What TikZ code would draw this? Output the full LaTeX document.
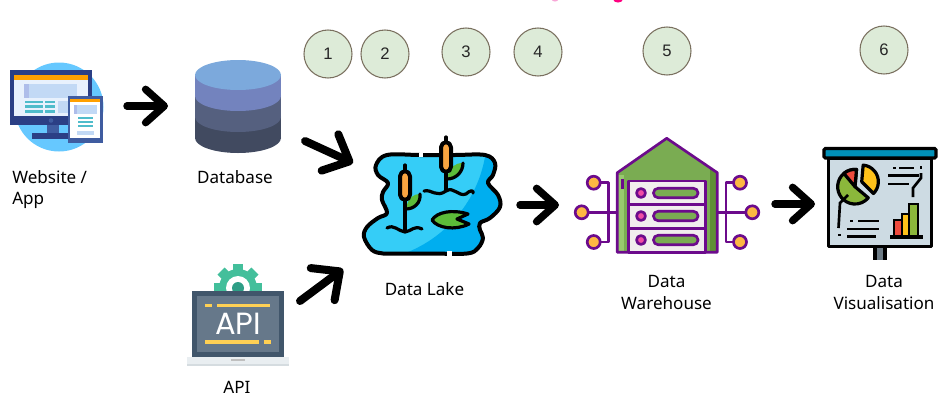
\documentclass[tikz,border=0pt]{standalone}
\usepackage{fontspec}
\setmainfont{Noto Sans}
\newfontfamily\numfont{Liberation Sans}
\newfontfamily\apifont{Poppins}
\usetikzlibrary{arrows.meta}
\definecolor{stepfill}{HTML}{DDEBD8}
\definecolor{stepline}{HTML}{7A705F}
\definecolor{sitesky}{HTML}{66C8FF}
\definecolor{sitenavy}{HTML}{2B3F85}
\definecolor{sitemid}{HTML}{3F5CA0}
\definecolor{sitepale}{HTML}{C2D9F5}
\definecolor{sitestrip}{HTML}{AEBDEA}
\definecolor{sitescreen}{HTML}{E8F1FD}
\definecolor{siteteal}{HTML}{4FBCCB}
\definecolor{siteorange}{HTML}{FFA000}
\definecolor{dbtop}{HTML}{7CA9DC}
\definecolor{dbupper}{HTML}{7383BE}
\definecolor{dbmiddle}{HTML}{55607F}
\definecolor{dblower}{HTML}{414A60}
\definecolor{gearteal}{HTML}{43BF9B}
\definecolor{geardark}{HTML}{2E9E86}
\definecolor{apibody}{HTML}{41566B}
\definecolor{apiscreen}{HTML}{66788A}
\definecolor{apiyellow}{HTML}{FFD054}
\definecolor{apibase}{HTML}{E9EEF1}
\definecolor{apishade}{HTML}{D5DCE0}
\definecolor{wetlight}{HTML}{35CDF7}
\definecolor{wetdark}{HTML}{00AEEF}
\definecolor{reedorange}{HTML}{F9A541}
\definecolor{leafgreen}{HTML}{5CBC39}
\definecolor{whpurple}{HTML}{6C0B8C}
\definecolor{whgreen}{HTML}{7AAC52}
\definecolor{whpale}{HTML}{98C96E}
\definecolor{whdeep}{HTML}{5F9035}
\definecolor{whorange}{HTML}{FDB843}
\definecolor{rackwhite}{HTML}{F1EDEE}
\definecolor{rackpink}{HTML}{F04CA5}
\definecolor{boardfill}{HTML}{CDDBE3}
\definecolor{boardbar}{HTML}{0090B8}
\definecolor{boardpost}{HTML}{6D7B85}
\definecolor{chartred}{HTML}{EE4B3E}
\definecolor{chartgold}{HTML}{FFC21A}
\definecolor{chartgreen}{HTML}{8BB73B}
\tikzset{
	stepdisc/.style={shape=circle, draw=stepline, fill=stepfill, line width=0.8pt, minimum width=36pt, inner sep=0pt, text=black!85, font=\numfont\fontsize{12.5}{14}\selectfont},
	caption/.style={anchor=center, align=center, inner sep=0pt, font=\fontsize{12.8}{16.8}\selectfont},
	flowarrow/.style={line width=5.6pt, line cap=round, -{Straight Barb[length=14pt, width=25pt, round]}},
	slantarrow/.style={line width=6pt, line cap=round, -{Straight Barb[length=16pt, width=30pt, round]}},
	tealbar/.style={fill=siteteal},
	lakeline/.style={line width=3pt, line cap=round, line join=round},
	whline/.style={draw=whpurple, line width=2pt, line join=round},
	whdot/.style={whline, fill=whorange},
	rackdot/.style={whline, fill=rackpink},
	rackpill/.style={whline, fill=whgreen, rounded corners=3.4pt},
	boardline/.style={line width=2.4pt},
	chartline/.style={line width=2pt}
}
\begin{document}
\begin{tikzpicture}[x=0.75pt, y=-0.75pt]
	\useasboundingbox (0,0) rectangle (949,404);
	% Step numbers:
	\node[stepdisc] (stepa) at (328,54){1};
	\node[stepdisc] (stepb) at (385,54){2};
	\node[stepdisc] (stepc) at (466,52){3};
	\node[stepdisc] (stepd) at (538,52){4};
	\node[stepdisc] (stepe) at (667,51){5};
	\node[stepdisc] (stepf) at (884,50){6};
	% Cut off marks at the top edge:
	\fill[magenta!35] (555,0) ellipse [x radius=3, y radius=1.5];
	\fill[red!50!magenta] (618,0) ellipse [x radius=4.5, y radius=2.5];

	% Website / App icon:
	\fill[sitesky] (59,107) circle [radius=44.5];
	\fill[sitemid] (46.5,125) rectangle (58.5,133);
	\fill[sitenavy] (32,133) rectangle (68,139);
	\fill[sitenavy] (10,70) rectangle (92,125);
	\fill[sitescreen] (14,75) rectangle (88,116);
	\fill[siteorange] (14,75) rectangle (88,80);
	\fill[sitepale] (24,83.5) rectangle (77,97.5);
	\fill[sitestrip] (24,83.5) rectangle (28.5,97.5);
	\fill[tealbar] (24.5,100.5) rectangle (42.5,103);
	\fill[tealbar] (44.5,100.5) rectangle (54.5,103);
	\fill[tealbar] (24.5,105) rectangle (42.5,107.5);
	\fill[tealbar] (44.5,105) rectangle (54.5,107.5);
	\fill[tealbar] (24.5,110) rectangle (42.5,112.5);
	\fill[tealbar] (44.5,110) rectangle (54.5,112.5);
	\fill[sitepale] (57.5,100.5) rectangle (68.5,112.5);
	\fill[sitemid] (51,120.5) circle [radius=2.3];
	\fill[sitemid] (67.5,96) rectangle (103,143);
	\fill[white] (70,98.5) rectangle (100,137.5);
	\fill[siteorange] (70,99) rectangle (100,102);
	\fill[sitepale] (73.5,104.5) rectangle (97,114);
	\fill[sitestrip] (73.5,104.5) rectangle (77,114);
	\fill[tealbar] (78,116.5) rectangle (92.5,118.8);
	\fill[tealbar] (78,120.7) rectangle (92.5,123);
	\fill[tealbar] (78,125) rectangle (92.5,127.3);
	\fill[sitepale] (76.5,130.5) rectangle (94,135);
	\node[caption, anchor=west] (sitelabel) at (12,177.5){Website /};
	\node[caption, anchor=west] (applabel) at (12,200.5){App};

	% Database icon:
	\fill[dblower] (238,138) ellipse [x radius=43, y radius=15];
	\fill[dblower] (195,117) rectangle (281,138);
	\fill[dbmiddle] (238,117) ellipse [x radius=43, y radius=15];
	\fill[dbmiddle] (195,96) rectangle (281,117);
	\fill[dbupper] (238,96) ellipse [x radius=43, y radius=15];
	\fill[dbupper] (195,75) rectangle (281,96);
	\fill[dbtop] (238,75) ellipse [x radius=43, y radius=15];
	\node[caption] (dblabel) at (235,177.5){Database};

	% API icon:
	\foreach \tilt in {0,45,...,315}{
		\fill[gearteal, rotate around={\tilt:(238,288)}] (233,264) rectangle (243,272);
	}
	\fill[gearteal] (238,288) circle [radius=19];
	\fill[white] (238,288) circle [radius=12];
	\fill[geardark] (238,288) circle [radius=6];
	\fill[apibody] (192,291) rectangle (284,357);
	\fill[apiscreen] (197,296) rectangle (279,352);
	\fill[apibase] (187,357) rectangle (289,366);
	\fill[apishade] (187,363.5) rectangle (289,366);
	\fill[black!25] (231,359) rectangle (245,360.5);
	\fill[apiyellow] (205,303.5) rectangle (212,307);
	\fill[apiyellow] (217,303.5) rectangle (270,307);
	\fill[apiyellow] (205,340) rectangle (259,344);
	\fill[apiyellow] (264,340) rectangle (271,344);
	\node[anchor=center, inner sep=0pt, text=white, font=\apifont\fontsize{23}{23}\selectfont] (apitext) at (238,323.5){API};
	\node[caption] (apilabel) at (237,387){API};

	% Data Lake icon:
	\def\pond{plot[smooth cycle, tension=0.6] coordinates {(387,155) (420,155) (455,155) (485,155) (495,163) (493,175) (488,183) (498,195) (500,207) (490,218) (480,223) (480,230) (483,238) (478,248) (467,253.5) (430,253.5) (395,253.5) (383,253.5) (372,250) (364,237) (367,227) (378,218) (387,213) (382,200) (383,192) (388,183) (378,175) (376,165)}}
	\begin{scope}
		\clip \pond;
		\fill[wetlight] (360,130) rectangle (505,260);
		\fill[wetdark] (486,150) .. controls (480,200) and (445,240) .. (400,255) -- (505,260) -- (505,150) -- cycle;
	\end{scope}
	\draw[lakeline] \pond;
	\draw[white, line width=3.6pt] (419,155) -- (423,155);
	\draw[white, line width=3.6pt] (447,253.5) -- (452,253.5);
	\fill[leafgreen] (406,209) .. controls (408,197) and (414,194) .. (420,194) .. controls (421,203) and (414,209) .. (406,209) -- cycle;
	\draw[lakeline, line width=2.4pt] (406,209) .. controls (414,209) and (421,203) .. (420,194);
	\fill[leafgreen] (447,179) .. controls (449,167) and (455,163) .. (463,163) .. controls (463,172) and (456,179) .. (447,179) -- cycle;
	\draw[lakeline, line width=2.4pt] (447,179) .. controls (456,179) and (463,172) .. (463,163);
	\draw[lakeline, line width=2.4pt] (405,165) -- (405,231);
	\draw[lakeline, line width=2.4pt] (446,137) -- (446,190);
	\draw[lakeline, fill=reedorange, rounded corners=4pt] (400,171) rectangle (410,200);
	\draw[lakeline, fill=reedorange, rounded corners=4pt] (441,142) rectangle (451,172);
	\draw[lakeline, line width=2.4pt] (387,228) .. controls (394,224) and (398,231) .. (405,232) .. controls (412,231) and (414,225) .. (422,229);
	\draw[lakeline, line width=2.4pt] (424,191) .. controls (432,189) and (436,198) .. (446,191) .. controls (454,186) and (458,197) .. (466,194) .. controls (470,190) and (474,190) .. (473,193);
	\draw[lakeline, line width=2.4pt, fill=leafgreen] (432,220) .. controls (437,212) and (452,209) .. (468,214) -- (457,219) -- (469,224) .. controls (455,231) and (437,228) .. (432,220) -- cycle;
	\node[caption] (lakelabel) at (424.5,289){Data Lake};

	% Data Warehouse icon:
	\draw[whline] (593.7,182.7) -- (608.3,182.7) -- (608.3,242) -- (593.7,242);
	\draw[whline] (581.7,212.3) -- (617,212.3);
	\draw[whline] (740,182.7) -- (726,182.7) -- (726,242) -- (740,242);
	\draw[whline] (752.3,212.3) -- (717,212.3);
	\draw[whdot] (593.7,182.7) circle [radius=6.5];
	\draw[whdot] (581.7,212.3) circle [radius=6.5];
	\draw[whdot] (593.7,242) circle [radius=6.5];
	\draw[whdot] (740,182.7) circle [radius=6.5];
	\draw[whdot] (752.3,212.3) circle [radius=6.5];
	\draw[whdot] (740,242) circle [radius=6.5];
	\fill[whgreen] (617.3,172.7) -- (666.7,138.3) -- (717.3,172.7) -- (717.3,252.3) -- (617.3,252.3) -- cycle;
	\fill[whpale] (617.3,175) rectangle (624,252.3);
	\fill[whdeep] (710,168) -- (717.3,172.7) -- (717.3,252.3) -- (710,252.3) -- cycle;
	\draw[whline] (617.3,172.7) -- (666.7,138.3) -- (717.3,172.7) -- (717.3,252.3) -- (617.3,252.3) -- cycle;
	\draw[whline] (622.7,178.5) -- (622.7,188.5);
	\draw[whline, fill=rackwhite] (628.3,181) rectangle (705.7,252.3);
	\draw[whline] (628.3,204.3) -- (705.7,204.3);
	\draw[whline] (628.3,228.3) -- (705.7,228.3);
	\foreach \rowy in {193,216,240}{
		\draw[rackdot] (641,\rowy) circle [radius=4.5];
		\draw[rackpill] (653.5,\rowy-4.7) rectangle (698,\rowy+4.7);
	}
	\node[caption] (whlabela) at (666.5,281){Data};
	\node[caption] (whlabelb) at (666.5,303){Warehouse};

	% Data Visualisation icon:
	\fill[boardpost] (875,247) rectangle (885,260);
	\draw[boardline] (875,247) -- (875,260);
	\draw[boardline] (885,247) -- (885,260);
	\draw[boardline, fill=boardfill, line join=round] (828.3,158) rectangle (931.7,246.7);
	\draw[boardline, fill=boardbar, rounded corners=1pt] (824,148.5) rectangle (936,158);
	\coordinate (piecenter) at (855,186.7);
	\coordinate (wedgecenter) at (861.7,181.7);
	\draw[boardline, line join=round, fill=chartgreen] (piecenter) -- ++(85:13pt) arc[start angle=85, end angle=320, radius=13pt] -- cycle;
	\draw[boardline, line join=round, fill=chartred] (piecenter) -- ++(85:13pt) arc[start angle=85, end angle=130, radius=13pt] -- cycle;
	\draw[boardline, line join=round, fill=chartgold] (wedgecenter) -- ++(85:12.5pt) arc[start angle=85, end angle=-45, radius=12.5pt] -- cycle;
	\draw[chartline] (893,168) -- (895.5,168);
	\draw[chartline] (899,168) -- (914,168);
	\draw[chartline] (888,175.5) -- (919,175.5);
	\draw[chartline] (888,184) -- (909,184);
	\draw[chartline] (921,166) -- (921,169);
	\draw[chartline] (921,173) -- (921,178) -- (913,188) -- (913,197);
	\draw[chartline] (848,195) -- (840,203) -- (838.5,228);
	\draw[chartline] (838,235) -- (841,235);
	\draw[chartline] (850,221) -- (853,221);
	\draw[chartline] (858,221) -- (879,221);
	\draw[chartline] (847,229) -- (879,229);
	\draw[chartline] (847,236.5) -- (876,236.5);
	\draw[chartline, fill=chartred] (894,220) rectangle (902,237);
	\draw[chartline, fill=chartgold] (902,214) rectangle (909,237);
	\draw[chartline, fill=chartgreen] (909,204) rectangle (918,237);
	\draw[boardline] (890,237) -- (923,237);
	\node[caption] (vislabela) at (884,281){Data};
	\node[caption] (vislabelb) at (884,303){Visualisation};

	% Arrows:
	\coordinate (sitetail) at (127,106);
	\coordinate (dbhead) at (168,106);
	\coordinate (dbtail) at (305,141);
	\coordinate (lakehead) at (353,163);
	\coordinate (apitail) at (300,301);
	\coordinate (lakefoot) at (343,269);
	\coordinate (laketail) at (520,205);
	\coordinate (whhead) at (559,205);
	\coordinate (whtail) at (775,204);
	\coordinate (vishead) at (815,204);
	\draw[flowarrow] (sitetail) -- (dbhead);
	\draw[slantarrow] (dbtail) -- (lakehead);
	\draw[slantarrow] (apitail) -- (lakefoot);
	\draw[flowarrow] (laketail) -- (whhead);
	\draw[flowarrow] (whtail) -- (vishead);
\end{tikzpicture}
\end{document}
